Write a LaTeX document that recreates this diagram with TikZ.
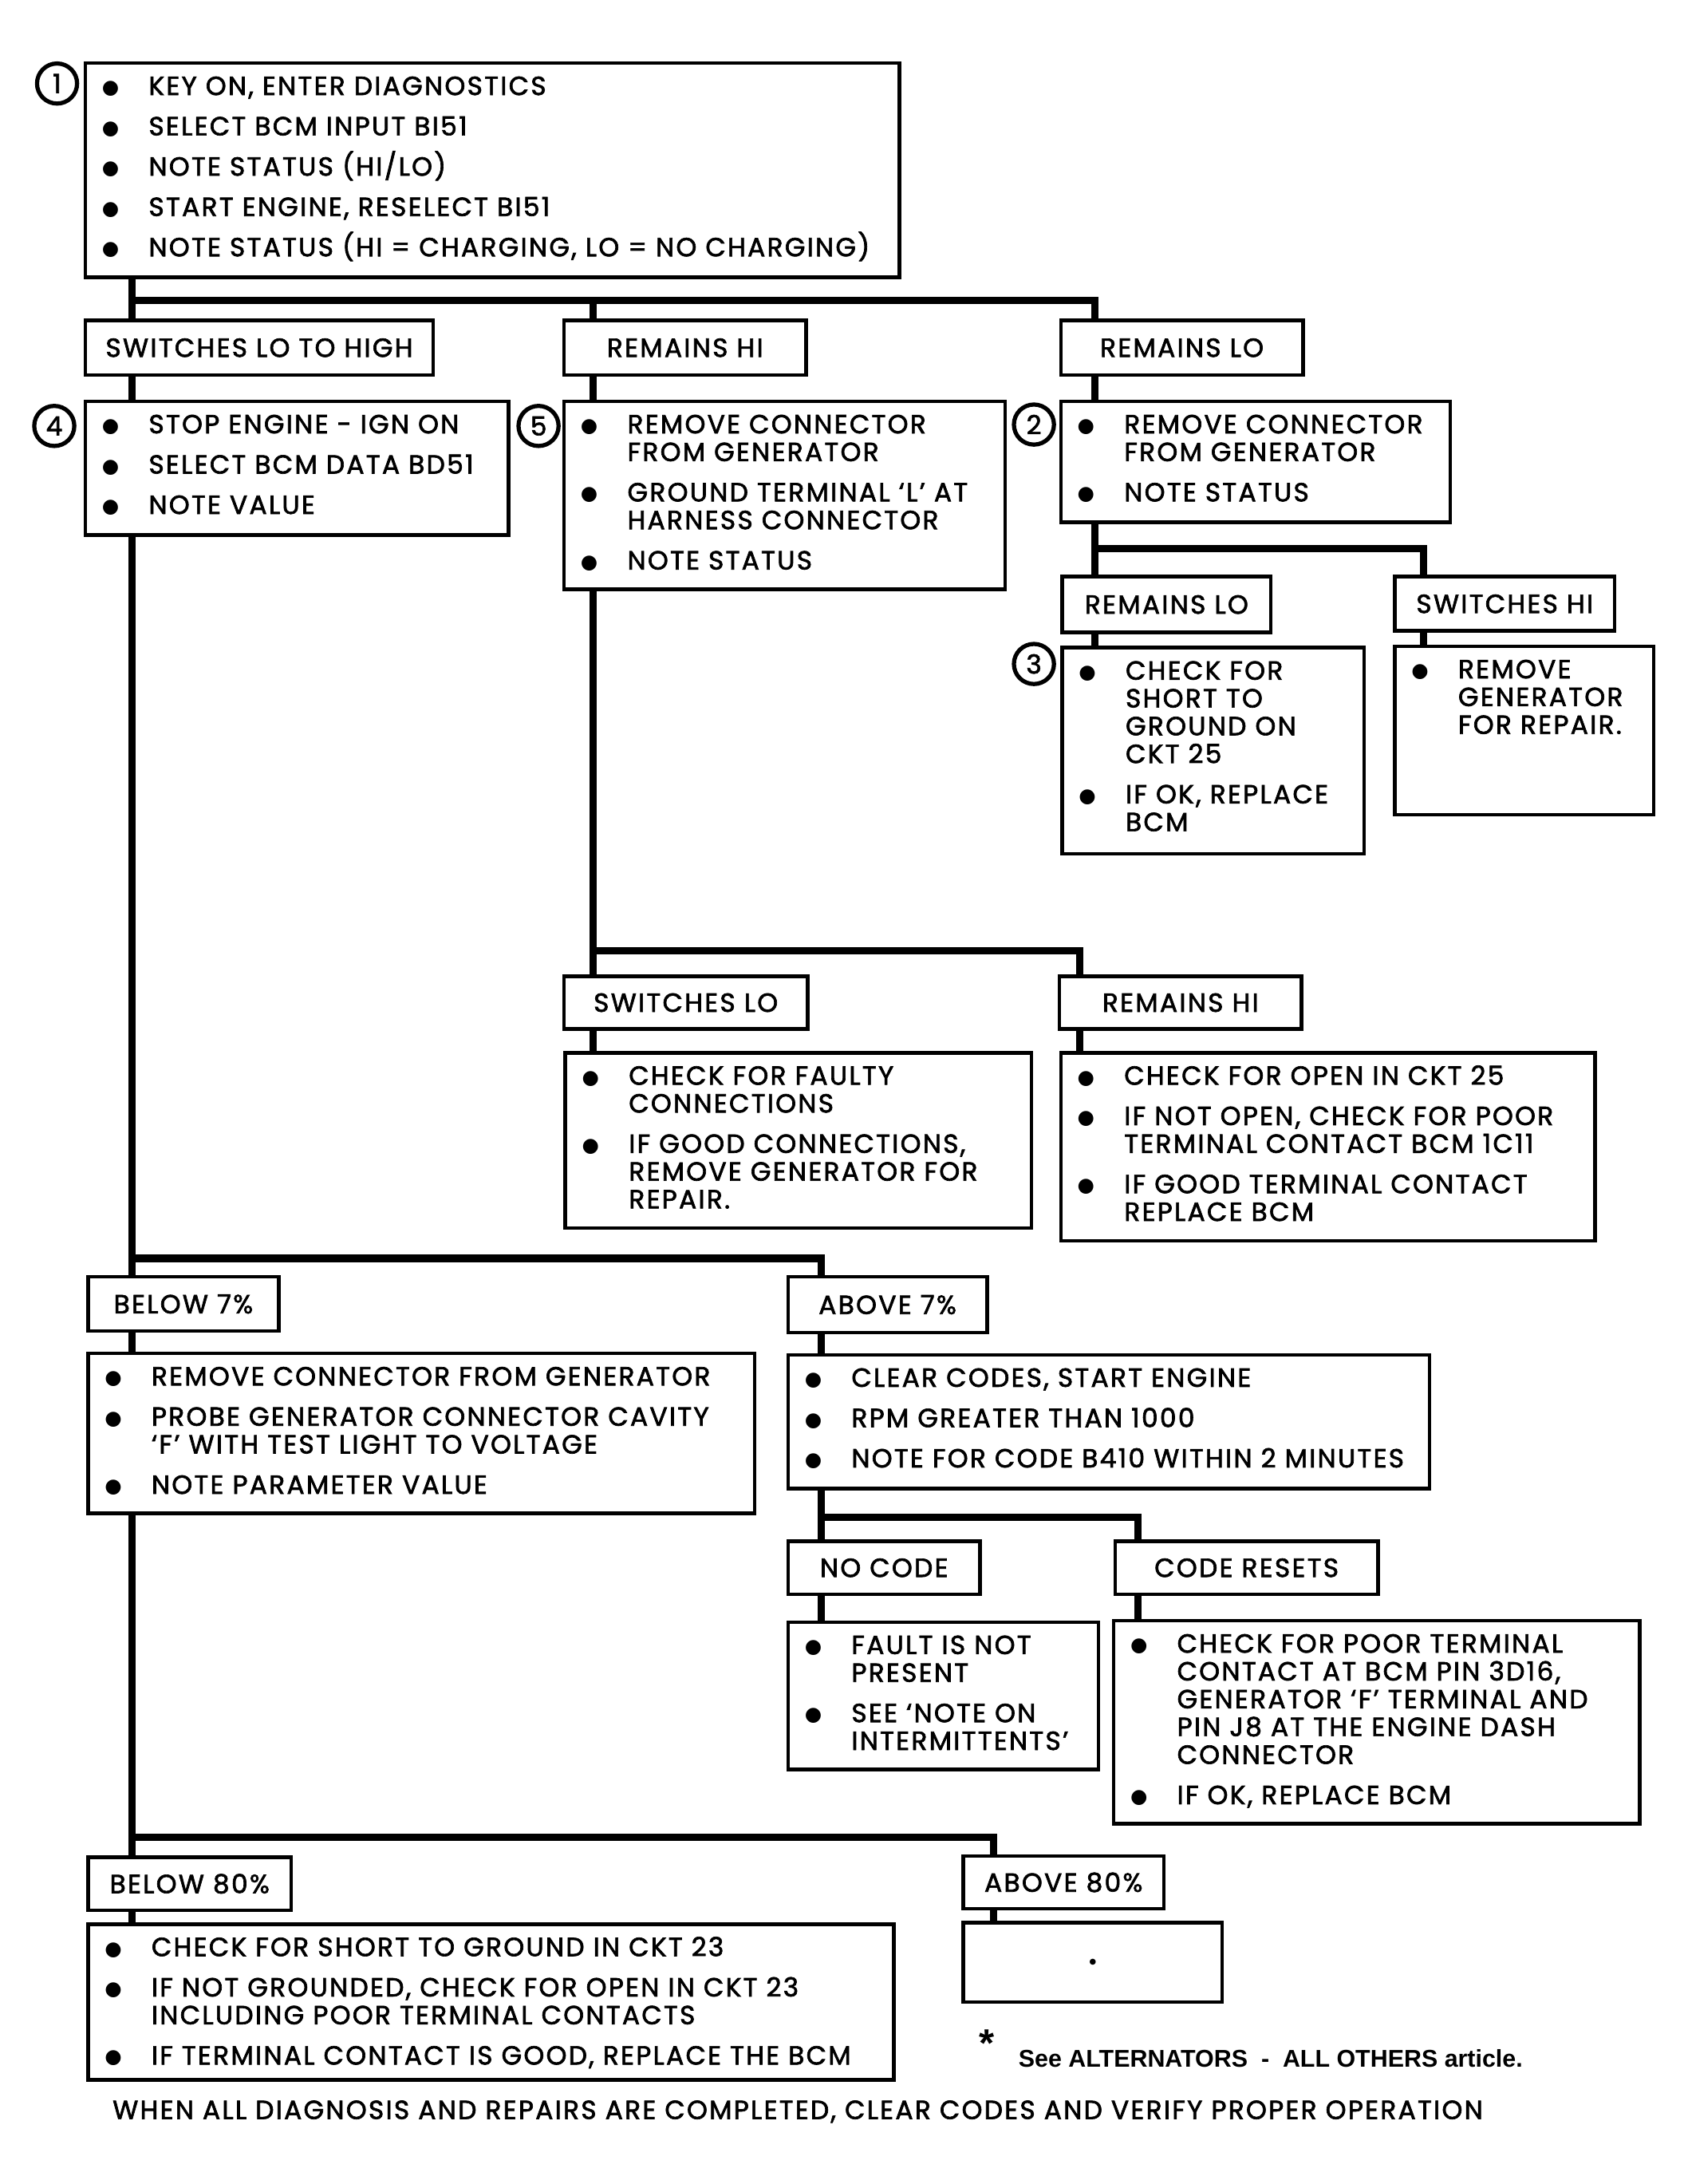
\documentclass[tikz,border=0pt]{standalone}
\usepackage{fontspec}
\setmainfont{Poppins}[FakeBold=2, LetterSpace=7]
\newfontfamily\notefont{Liberation Sans}
\newfontfamily\bulfont{DejaVu Sans}
\newdimen\boxunit \boxunit=0.25mm
% one bullet item, wrapped lines hang under the text
\newcommand\itm{\par\noindent\hangindent=11.4mm\hangafter=1\strut
  \makebox[11.4mm][l]{\hspace{3mm}\raisebox{0.2mm}{\bulfont\fontsize{10}{10}\selectfont\char"25CF}}}
% fixed size box body, text from the top
\newcommand\steps[3]{\parbox[c][#2\boxunit][t]{#1\boxunit}{\rightskip=0pt plus 1fil
  \lineskiplimit=-20pt\setlength\parskip{2.25mm}\vspace*{0pt}#3}}
\tikzset{
  card/.style={draw, line width=0.65mm, anchor=north west, inner sep=0pt},
  tag/.style 2 args={draw, line width=0.65mm, anchor=north west, inner sep=0pt,
    minimum width=#1*\boxunit, minimum height=#2*\boxunit},
  num/.style={circle, draw, line width=0.75mm, minimum size=7.2mm, inner sep=0pt, fill=white},
  wire/.style={line width=1.3mm}
}
\begin{document}
\begin{tikzpicture}[x=0.25mm, y=-0.25mm, font=\fontsize{13.4}{14.2}\selectfont]
  \path[use as bounding box, fill=white] (0,0) rectangle (1210,1569);

  % first check
  \node[card] (b1) at (60,44) {\steps{585}{154}{%
    \itm KEY ON, ENTER DIAGNOSTICS
    \itm SELECT BCM INPUT BI51
    \itm NOTE STATUS (HI/LO)
    \itm START ENGINE, RESELECT BI51
    \itm NOTE STATUS (HI = CHARGING, LO = NO CHARGING)}};
  \node[tag={250}{39}] (l1) at (60,229)  {SWITCHES LO TO HIGH};
  \node[tag={174}{39}] (l2) at (404,229) {REMAINS HI};
  \node[tag={174}{39}] (l3) at (761,229) {REMAINS LO};

  \node[card] (b4) at (60,287) {\steps{304}{96}{%
    \itm STOP ENGINE - IGN ON
    \itm SELECT BCM DATA BD51
    \itm NOTE VALUE}};
  \node[card] (b5) at (404,287) {\steps{317}{135}{%
    \itm REMOVE CONNECTOR\\FROM GENERATOR
    \itm GROUND TERMINAL ‘L’ AT\\HARNESS CONNECTOR
    \itm NOTE STATUS}};
  \node[card] (b2) at (761,287) {\steps{280}{87}{%
    \itm REMOVE CONNECTOR\\FROM GENERATOR
    \itm NOTE STATUS}};

  % generator unplugged, still LO / now HI
  \node[tag={150}{40}] (l4) at (762,413)  {REMAINS LO};
  \node[tag={158}{39}] (l5) at (1001,413) {SWITCHES HI};
  \node[card] (b3) at (762,464) {\steps{217}{148}{%
    \itm CHECK FOR\\SHORT TO\\GROUND ON\\CKT 25
    \itm IF OK, REPLACE\\BCM}};
  \node[card] (b6) at (1001,463) {\steps{186}{121}{%
    \itm REMOVE\\GENERATOR\\FOR REPAIR.}};

  % terminal L grounded
  \node[tag={175}{38}] (l6) at (404,700) {SWITCHES LO};
  \node[tag={174}{38}] (l7) at (760,700) {REMAINS HI};
  \node[card] (b7) at (405,755) {\steps{335}{126}{%
    \itm CHECK FOR FAULTY\\CONNECTIONS
    \itm IF GOOD CONNECTIONS,\\REMOVE GENERATOR FOR\\REPAIR.}};
  \node[card] (b8) at (761,755) {\steps{384}{135}{%
    \itm CHECK FOR OPEN IN CKT 25
    \itm IF NOT OPEN, CHECK FOR POOR\\TERMINAL CONTACT BCM 1C11
    \itm IF GOOD TERMINAL CONTACT\\REPLACE BCM}};

  % BD51 value
  \node[tag={137}{39}] (l8) at (62,916)  {BELOW 7\%};
  \node[tag={143}{40}] (l9) at (565,916) {ABOVE 7\%};
  \node[card] (b9) at (62,971) {\steps{479}{115}{%
    \itm REMOVE CONNECTOR FROM GENERATOR
    \itm PROBE GENERATOR CONNECTOR CAVITY\\‘F’ WITH TEST LIGHT TO VOLTAGE
    \itm NOTE PARAMETER VALUE}};
  \node[card] (b10) at (565,972) {\steps{461}{96}{%
    \itm CLEAR CODES, START ENGINE
    \itm RPM GREATER THAN 1000
    \itm NOTE FOR CODE B410 WITHIN 2 MINUTES}};

  \node[tag={138}{38}] (l10) at (565,1106) {NO CODE};
  \node[tag={189}{38}] (l11) at (800,1106) {CODE RESETS};
  \node[card] (b11) at (565,1164) {\steps{223}{106}{%
    \itm FAULT IS NOT\\PRESENT
    \itm SEE ‘NOTE ON\\INTERMITTENTS’}};
  \node[card] (b12) at (799,1163) {\steps{378}{146}{%
    \itm CHECK FOR POOR TERMINAL\\CONTACT AT BCM PIN 3D16,\\GENERATOR ‘F’ TERMINAL AND\\PIN J8 AT THE ENGINE DASH\\CONNECTOR
    \itm IF OK, REPLACE BCM}};

  % parameter value
  \node[tag={146}{38}] (l12) at (62,1333)  {BELOW 80\%};
  \node[tag={144}{38}] (l13) at (691,1332) {ABOVE 80\%};
  \node[card] (b13) at (62,1381) {\steps{579}{112}{%
    \itm CHECK FOR SHORT TO GROUND IN CKT 23
    \itm IF NOT GROUNDED, CHECK FOR OPEN IN CKT 23\\INCLUDING POOR TERMINAL CONTACTS
    \itm IF TERMINAL CONTACT IS GOOD, REPLACE THE BCM}};
  \node[card, minimum width=186*\boxunit, minimum height=57*\boxunit] (b14) at (691,1380)
    {{\bulfont\fontsize{4}{4}\selectfont\char"25CF}};

  \node (star) at (709,1468) {\notefont\bfseries\fontsize{20}{20}\selectfont *};
  \node[anchor=west] (note) at (727,1479)
    {\notefont\bfseries\fontsize{12.4}{14}\selectfont See ALTERNATORS \ - \ ALL OTHERS article.};
  \node[anchor=west] (done) at (76,1517)
    {WHEN ALL DIAGNOSIS AND REPAIRS ARE COMPLETED, CLEAR CODES AND VERIFY PROPER OPERATION};

  % step numbers
  \node[num] (c1) at (41,60)   {1};
  \node[num] (c4) at (39,306)  {4};
  \node[num] (c5) at (387,306) {5};
  \node[num] (c2) at (743,305) {2};
  \node[num] (c3) at (743,477) {3};

  % bus junctions and taps
  \coordinate (j1) at (95,216);
  \coordinate (j2) at (787,394);
  \coordinate (j3) at (426,683);
  \coordinate (j4) at (95,904);
  \coordinate (j5) at (590,1090);
  \coordinate (j6) at (95,1320);
  \coordinate (xb) at (426,0);
  \coordinate (xc) at (787,0);
  \coordinate (xd) at (1023,0);
  \coordinate (xe) at (776,0);
  \coordinate (xg) at (818,0);
  \coordinate (xh) at (714,0);

  \foreach \a/\b/\x in {b1/l1/j1, l1/b4/j1, l2/b5/xb, l3/b2/xc, b2/l4/j2, l4/b3/j2,
      l5/b6/xd, b5/l6/j3, l6/b7/j3, l7/b8/xe, b4/l8/j4, l8/b9/j4, l9/b10/j5,
      b10/l10/j5, l10/b11/j5, l11/b12/xg, b9/l12/j6, l12/b13/j6, l13/b14/xh}
    \draw[wire] (\a.south -| \x) -- (\b.north -| \x);
  \foreach \j/\b/\x in {j1/l3/xc, j2/l5/xd, j3/l7/xe, j4/l9/j5, j5/l11/xg, j6/l13/xh}
    \draw[wire] (\j) -| (\b.north -| \x);
  \draw[wire] (j1 -| xb) -- (l2.north -| xb);
\end{tikzpicture}
\end{document}
